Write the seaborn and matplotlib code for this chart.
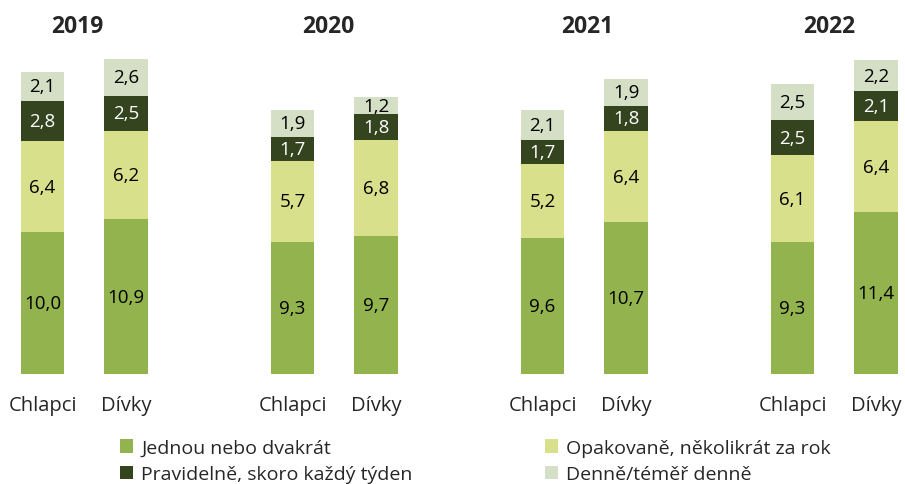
import matplotlib
matplotlib.use("Agg")
import matplotlib.pyplot as plt
from matplotlib.patches import Patch
import seaborn as sns
import pandas as pd
import numpy as np

years = ["2019", "2020", "2021", "2022"]
groups = ["Chlapci", "Dívky"]
categories = ["Jednou nebo dvakrát", "Opakovaně, několikrát za rok",
              "Pravidelně, skoro každý týden", "Denně/téměř denně"]

# values per year: [Chlapci, Dívky]
jednou = {"2019": [10.0, 10.9], "2020": [9.3, 9.7], "2021": [9.6, 10.7], "2022": [9.3, 11.4]}
opakovane = {"2019": [6.4, 6.2], "2020": [5.7, 6.8], "2021": [5.2, 6.4], "2022": [6.1, 6.4]}
pravidelne = {"2019": [2.8, 2.5], "2020": [1.7, 1.8], "2021": [1.7, 1.8], "2022": [2.5, 2.1]}
denne = {"2019": [2.1, 2.6], "2020": [1.9, 1.2], "2021": [2.1, 1.9], "2022": [2.5, 2.2]}

colors = ["#92B34D", "#D8E08C", "#33441F", "#D5DFC5"]
label_colors = ["black", "black", "white", "black"]

sns.set_theme(style="white")
plt.rcParams["font.family"] = ["Open Sans", "DejaVu Sans"]

fig = plt.figure(figsize=(9.05, 4.85), dpi=100)

W, H = 905, 485
first_centers = [42.5, 292.5, 542.5, 792.5]
title_centers = [77, 328.5, 587.5, 829]
unit = 83.5
x_lo, x_hi = -0.28, 1.28
y_bottom = 375
y_max = 23
px_per_val = 14.2
ax_h = y_max * px_per_val

series = [jednou, opakovane, pravidelne, denne]

for year, c0, tc in zip(years, first_centers, title_centers):
    left = c0 + x_lo * unit
    width = (x_hi - x_lo) * unit
    ax = fig.add_axes([left / W, 1 - y_bottom / H, width / W, ax_h / H])
    bottom = np.zeros(2)
    for s, col, lc in zip(series, colors, label_colors):
        vals = np.array(s[year])
        df = pd.DataFrame({"grp": groups, "val": vals})
        sns.barplot(data=df, x="grp", y="val", color=col, saturation=1,
                    width=0.515, bottom=bottom, ax=ax, linewidth=0)
        cont = ax.containers[-1]
        ax.bar_label(cont, labels=[f"{v:.1f}".replace(".", ",") for v in vals],
                     label_type="center", color=lc, fontsize=13.5)
        bottom = bottom + vals
    ax.set_xlim(x_lo, x_hi)
    ax.set_ylim(0, y_max)
    ax.set_xlabel("")
    ax.set_ylabel("")
    ax.set_yticks([])
    ax.tick_params(axis="x", length=0, pad=15, labelsize=14.5)
    for sp in ax.spines.values():
        sp.set_visible(False)
    ax.set_title(year, fontsize=16.5, fontweight="bold", pad=11,
                 x=(tc - left) / width)

handles = [Patch(facecolor=c, edgecolor="none") for c in colors]
leg_kw = dict(frameon=False, fontsize=14, handlelength=0.7, handleheight=0.7,
              handletextpad=0.4, labelspacing=0.45, borderpad=0, loc="upper left")
fig.legend([handles[0], handles[2]], [categories[0], categories[2]],
           bbox_to_anchor=(110 / W, 1 - 430 / H), **leg_kw)
fig.legend([handles[1], handles[3]], [categories[1], categories[3]],
           bbox_to_anchor=(535 / W, 1 - 430 / H), **leg_kw)

fig.savefig("out.png", dpi=100)
